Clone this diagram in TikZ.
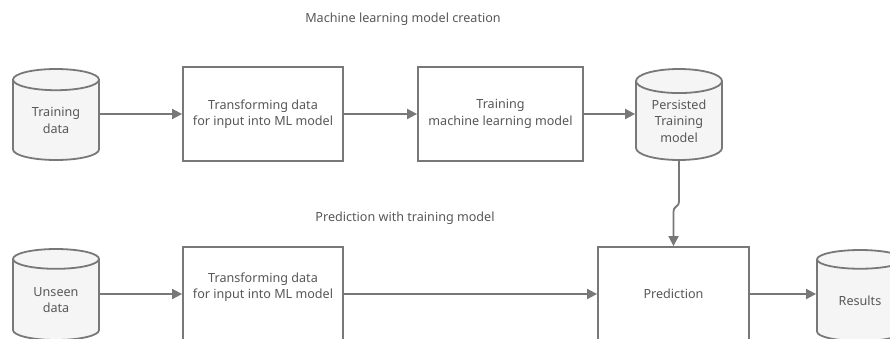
\documentclass[tikz,border=0pt]{standalone}
\usepackage{fontspec}
\setmainfont{Noto Sans}
\usetikzlibrary{arrows.meta}
\usetikzlibrary{shapes.geometric}

\definecolor{linegray}{HTML}{787878}
\definecolor{textgray}{HTML}{575757}
\definecolor{dbfill}{HTML}{F5F5F5}

\begin{document}
\begin{tikzpicture}[x=1pt, y=-1pt,
    every node/.style={text=textgray, font=\fontsize{12.6}{16.5}\selectfont},
    stepbox/.style={draw=linegray, line width=1.8pt, fill=white, align=center, inner sep=0pt},
    store/.style={cylinder, shape border rotate=90, draw=linegray, line width=1.8pt,
        fill=dbfill, shape aspect=0.44, minimum width=86pt, minimum height=91pt,
        align=center, inner sep=0pt, anchor=shape center},
    flow/.style={draw=linegray, line width=1.8pt, -{Triangle[length=10pt, width=10pt]}}]

    \clip (0,0) rectangle (890,338);

    % model creation
    \node (title1) at (403,19) {Machine learning model creation};
    \node[store] (train) at (56,114.5) {Training\\data};
    \node[stepbox, minimum width=160pt, minimum height=94pt] (trans1) at (263,114) {Transforming data\\for input into ML model};
    \node[stepbox, minimum width=165pt, minimum height=94pt] (trainml) at (500.5,114) {Training\\machine learning model};
    \node[store] (persist) at (679,114.5) {Persisted\\Training\\model};

    \draw[flow] (train.east |- trans1.west) -- (trans1.west);
    \draw[flow] (trans1) -- (trainml);
    \draw[flow] (trainml.east) -- (trainml.east -| persist.west);

    % prediction
    \node (title2) at (405,218) {Prediction with training model};
    \node[store] (unseen) at (56,294.5) {Unseen\\data};
    \node[stepbox, minimum width=160pt, minimum height=94pt] (trans2) at (263,294) {};
    \node[align=center] (trans2txt) at (263,287) {Transforming data\\for input into ML model};
    \node[stepbox, minimum width=151pt, minimum height=94pt] (predict) at (673.5,294) {Prediction};
    \node[store] (results) at (860,295.5) {Results};

    \draw[flow] (unseen.east |- trans2.west) -- (trans2.west);
    \draw[flow] (trans2) -- (predict);
    \draw[flow] (predict.east) -- (predict.east -| results.west);

    \draw[flow] (persist.south) -- ++(0,40) .. controls +(0,7) and +(0,-7) .. ([yshift=34pt]predict.north) -- (predict.north);

\end{tikzpicture}
\end{document}
